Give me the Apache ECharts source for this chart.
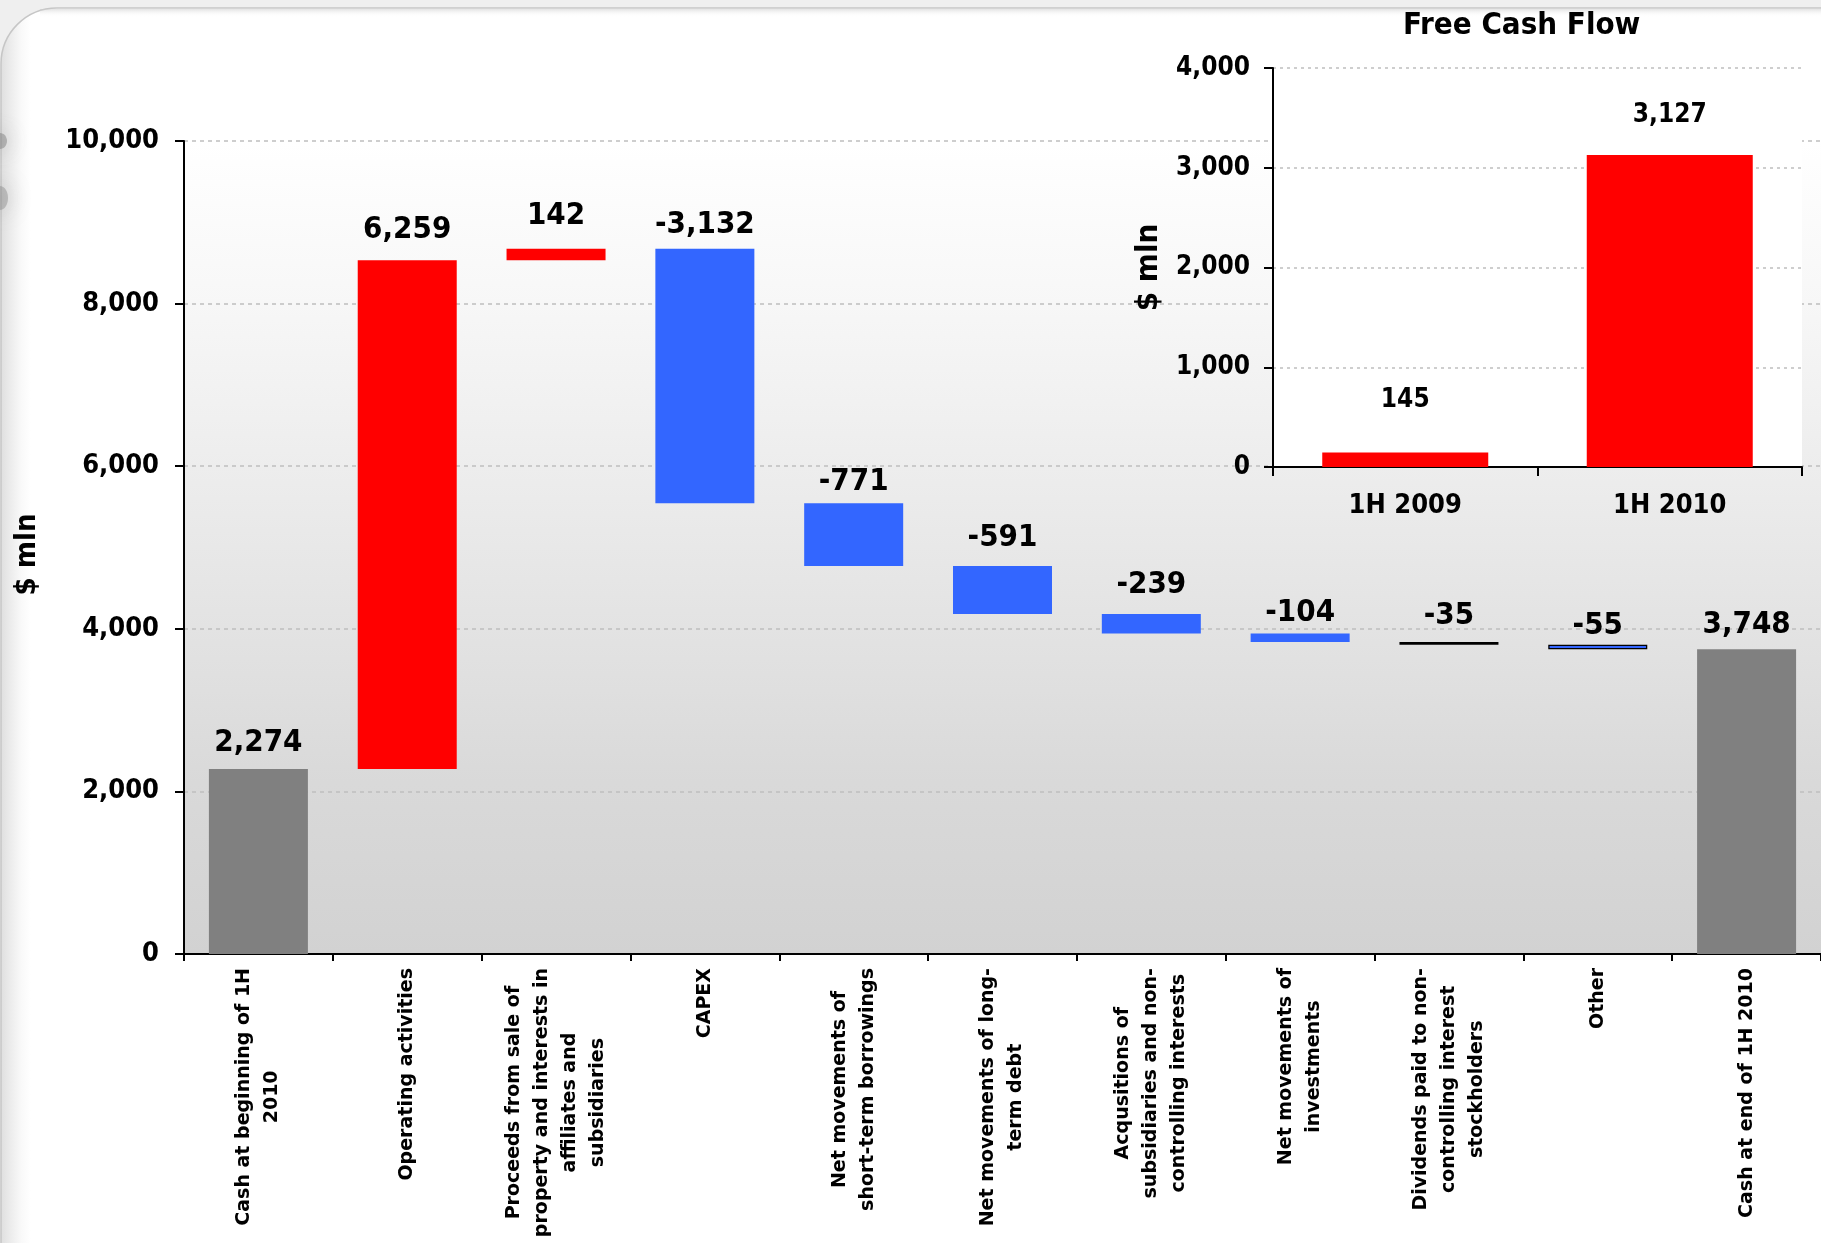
<!DOCTYPE html>
<html>
<head>
<meta charset="utf-8">
<title>Cash flow 1H 2010</title>
<script src="https://cdn.jsdelivr.net/npm/echarts@6/dist/echarts.min.js"></script>
<style>
  html, body { margin: 0; padding: 0; background: #efefef; }
  #chart { width: 1821px; height: 1243px; }
</style>
</head>
<body>
<div id="chart"></div>
<script>
// ---- data ($ mln) ----
const stepNames = [
  'Cash at beginning of 1H\n2010',
  'Operating activities',
  'Proceeds from sale of\nproperty and interests in\naffiliates and\nsubsidiaries',
  'CAPEX',
  'Net movements of\nshort-term borrowings',
  'Net movements of long-\nterm debt',
  'Acqusitions of\nsubsidiaries and non-\ncontrolling interests',
  'Net movements of\ninvestments',
  'Dividends paid to non-\ncontrolling interest\nstockholders',
  'Other',
  'Cash at end of 1H 2010'
];
const openingCash = 2274;
const flows = [6259, 142, -3132, -771, -591, -239, -104, -35, -55];
const closingCash = 3748;

const fcfPeriods = ['1H 2009', '1H 2010'];
const fcfValues = [145, 3127];

// ---- styling ----
const numFont = "'DejaVu Sans Condensed', 'DejaVu Sans', sans-serif";
const textFont = "'DejaVu Sans', Verdana, sans-serif";
const RED = '#ff0000', BLUE = '#3366ff', GREY = '#808080';
// vertical gap between each value label and its bar
const labelLift = [11, 15, 17, 8, 6, 13, 14, 5, 11, 3, 9];
const fmt = v => v.toLocaleString('en-US');

// ---- waterfall build: invisible base + visible step ----
const stepValues = [openingCash].concat(flows, [closingCash]);
const baseData = [];
const stepData = [];
let running = 0;
stepValues.forEach((v, i) => {
  const isTotal = (i === 0 || i === stepValues.length - 1);
  let base, height, color;
  if (isTotal) {
    base = 0; height = v; color = GREY; running = v;
  } else if (v >= 0) {
    base = running; height = v; color = RED; running += v;
  } else {
    base = running + v; height = -v; color = BLUE; running += v;
  }
  const item = {
    value: height,
    signed: v,
    itemStyle: { color: color },
    label: { distance: labelLift[i] }
  };
  if (v === -35) item.itemStyle = { color: '#000000', borderColor: '#000000', borderWidth: 1.5 };
  if (v === -55) item.itemStyle = { color: BLUE, borderColor: '#000000', borderWidth: 1.3 };
  baseData.push(base);
  stepData.push(item);
});

const chart = echarts.init(document.getElementById('chart'), null, { renderer: 'canvas' });

const option = {
  animation: false,
  backgroundColor: '#efefef',
  graphic: [
    {
      type: 'rect', z: -20, silent: true,
      shape: { x: 1, y: 8, width: 1900, height: 1300, r: [56, 0, 0, 0] },
      style: {
        fill: {
          type: 'linear', x: 0, y: 0, x2: 1, y2: 0,
          colorStops: [
            { offset: 0, color: '#dedede' },
            { offset: 0.005, color: '#ebebeb' },
            { offset: 0.011, color: '#f9f9f9' },
            { offset: 0.016, color: '#ffffff' },
            { offset: 1, color: '#ffffff' }
          ]
        },
        stroke: '#c6c6c6', lineWidth: 1.5
      }
    },
    {
      type: 'rect', z: -19, silent: true,
      shape: { x: 40, y: 9, width: 1900, height: 8 },
      style: {
        fill: {
          type: 'linear', x: 0, y: 0, x2: 0, y2: 1,
          colorStops: [
            { offset: 0, color: 'rgba(200,200,200,0.5)' },
            { offset: 1, color: 'rgba(255,255,255,0)' }
          ]
        }
      }
    },
    {
      type: 'ellipse', z: -18, silent: true,
      shape: { cx: 0, cy: 141, rx: 7, ry: 8 },
      style: { fill: 'rgba(120,120,120,0.45)', shadowBlur: 22, shadowColor: 'rgba(110,110,110,0.9)' }
    },
    {
      type: 'ellipse', z: -18, silent: true,
      shape: { cx: 0, cy: 198, rx: 8, ry: 12 },
      style: { fill: 'rgba(130,130,130,0.4)', shadowBlur: 24, shadowColor: 'rgba(120,120,120,0.9)' }
    }
  ],
  title: {
    text: 'Free Cash Flow',
    left: 1403, top: 10, padding: 0,
    textStyle: { fontFamily: numFont, fontWeight: 'bold', fontSize: 31, color: '#000' }
  },
  grid: [
    {
      left: 184, top: 141, right: 0, bottom: 289,
      outerBoundsMode: 'none', containLabel: false,
      show: true, borderWidth: 0, z: 0,
      backgroundColor: {
        type: 'linear', x: 0, y: 0, x2: 0, y2: 1,
        colorStops: [
          { offset: 0, color: '#ffffff' },
          { offset: 0.2, color: '#f7f7f7' },
          { offset: 0.54, color: '#e6e6e6' },
          { offset: 0.79, color: '#d9d9d9' },
          { offset: 1, color: '#d2d2d2' }
        ]
      }
    },
    {
      left: 1273, top: 68, right: 19, bottom: 776,
      outerBoundsMode: 'none', containLabel: false,
      show: true, borderWidth: 0, backgroundColor: '#ffffff', z: 1
    }
  ],
  xAxis: [
    {
      type: 'category', gridIndex: 0, data: stepNames,
      axisLine: { lineStyle: { color: '#000', width: 2 } },
      axisTick: { show: true, interval: 0, length: 7, lineStyle: { color: '#000', width: 2 } },
      splitLine: { show: false },
      axisLabel: {
        interval: 0, rotate: 90, margin: 14, hideOverlap: false,
        formatter: v => v.split('\n').map(s => '{c|' + s + '}').join('\n'),
        rich: {
          c: { fontFamily: textFont, fontWeight: 'bold', fontSize: 19, lineHeight: 28, align: 'center', color: '#000' }
        }
      }
    },
    {
      type: 'category', gridIndex: 1, data: fcfPeriods, z: 1,
      axisLine: { lineStyle: { color: '#000', width: 2 } },
      axisTick: { show: true, length: 9, lineStyle: { color: '#000', width: 2 } },
      splitLine: { show: false },
      axisLabel: { margin: 25, fontFamily: numFont, fontWeight: 'bold', fontSize: 27, color: '#000' }
    }
  ],
  yAxis: [
    {
      type: 'value', gridIndex: 0, min: 0, max: 10000, interval: 2000,
      name: '$ mln', nameLocation: 'middle', nameGap: 142, nameRotate: 90, nameMoveOverlap: false,
      nameTextStyle: { fontFamily: numFont, fontWeight: 'bold', fontSize: 29, color: '#000', padding: [0, 14, 0, 0] },
      axisLine: { show: true, lineStyle: { color: '#000', width: 2 } },
      axisTick: { show: true, length: 9, lineStyle: { color: '#000', width: 2 } },
      splitLine: { show: true, lineStyle: { color: '#bfbfbf', width: 1.5, type: [4, 4] } },
      axisLabel: { margin: 25, fontFamily: numFont, fontWeight: 'bold', fontSize: 27, color: '#000', formatter: fmt }
    },
    {
      type: 'value', gridIndex: 1, min: 0, max: 4000, interval: 1000, z: 1,
      name: '$ mln', nameLocation: 'middle', nameGap: 109, nameRotate: 90, nameMoveOverlap: false,
      nameTextStyle: { fontFamily: numFont, fontWeight: 'bold', fontSize: 31, color: '#000' },
      axisLine: { show: true, lineStyle: { color: '#000', width: 2 } },
      axisTick: { show: true, length: 9, lineStyle: { color: '#000', width: 2 } },
      splitLine: { show: true, lineStyle: { color: '#bfbfbf', width: 1.5, type: [3, 4] } },
      axisLabel: { margin: 23, fontFamily: numFont, fontWeight: 'bold', fontSize: 26, color: '#000', formatter: fmt }
    }
  ],
  series: [
    {
      name: 'base', type: 'bar', stack: 'cash', xAxisIndex: 0, yAxisIndex: 0,
      barWidth: 99, silent: true,
      itemStyle: { color: 'rgba(0,0,0,0)' },
      data: baseData
    },
    {
      name: 'step', type: 'bar', stack: 'cash', xAxisIndex: 0, yAxisIndex: 0,
      barWidth: 99,
      label: {
        show: true, position: 'top',
        fontFamily: numFont, fontWeight: 'bold', fontSize: 31, color: '#000',
        formatter: p => fmt(p.data.signed)
      },
      data: stepData
    },
    {
      name: 'Free Cash Flow', type: 'bar', xAxisIndex: 1, yAxisIndex: 1,
      barWidth: 166, z: 3,
      itemStyle: { color: RED },
      label: {
        show: true, position: 'top',
        fontFamily: numFont, fontWeight: 'bold', fontSize: 26, color: '#000',
        formatter: p => fmt(p.value)
      },
      data: fcfValues.map((v, i) => ({ value: v, label: { distance: i === 0 ? 39 : 27 } }))
    }
  ]
};

chart.setOption(option);
</script>
</body>
</html>
